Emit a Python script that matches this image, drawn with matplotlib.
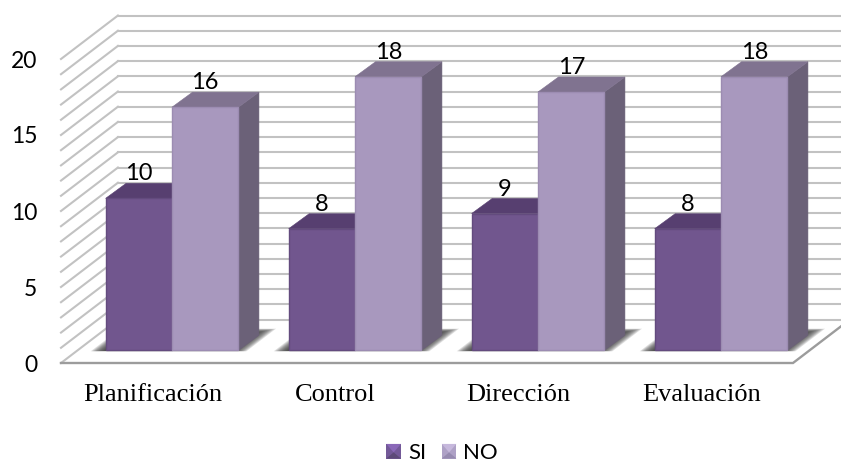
import matplotlib
matplotlib.use("Agg")
import matplotlib.pyplot as plt
from matplotlib.legend_handler import HandlerBase
from matplotlib.patches import Patch, Polygon

categories = ["Planificación", "Control", "Dirección", "Evaluación"]
si_values = [10, 8, 9, 8]
no_values = [16, 18, 17, 18]
y_ticks = [0, 5, 10, 15, 20]

plt.rcParams['font.family'] = ['Lato', 'DejaVu Sans']

# colours: front, top, side, front edge
si_colors = ("#71568e", "#573f70", "#4d3a63", "#634b7e")
no_colors = ("#a898be", "#807390", "#6b6178", "#9c8cb2")

# fake 3D box: how far the walls and bars go back, in axis units
wall_dx, wall_dy = 0.311, 2.86
bar_dx, bar_dy = 0.112, 0.987
front_dx, front_dy = 0.1066, 0.83
bar_w = 0.363


def poly(ax, pts, **kw):
    ax.add_patch(Polygon(pts, closed=True, clip_on=False, **kw))


def draw_walls(ax):
    x0, x1 = -0.5, 3.5
    for v in range(0, 21):
        c = "#c2c2c2"
        ax.plot([x0, x0 + wall_dx], [v, v + wall_dy], color=c, lw=1.5, clip_on=False, zorder=1)
        ax.plot([x0 + wall_dx, x1 + wall_dx], [v + wall_dy, v + wall_dy], color=c, lw=1.5,
                clip_on=False, zorder=1)
    # floor outline
    ax.plot([x0, x1, x1 + wall_dx], [0, 0, wall_dy], color="#9c9c9c", lw=1.7, clip_on=False,
            zorder=1.5, solid_joinstyle="miter")


def draw_shadow(ax, i):
    # soft floor shadow, stacked translucent layers
    left = i - bar_w + front_dx - 0.075
    right = i + bar_w + front_dx + 0.05
    d0, d1 = 0.27, 0.79
    layers = 12
    for k in range(layers):
        g = k / layers
        shrink_x = 0.085 * g
        a = d0 + 0.012 * g
        b = d1 - 0.1 * g
        pts = [
            (left + shrink_x + wall_dx * (a - 0.29), wall_dy * a),
            (right - shrink_x + wall_dx * (a - 0.29), wall_dy * a),
            (right - shrink_x + wall_dx * (b - 0.29), wall_dy * b),
            (left + shrink_x + wall_dx * (b - 0.29), wall_dy * b),
        ]
        poly(ax, pts, facecolor="#303030", edgecolor="none", alpha=0.15, zorder=2)


def draw_series(ax, xs, values, colors, z):
    front, top, side, rim = colors
    for x, v in zip(xs, values):
        left = x - bar_w / 2
        right = x + bar_w / 2
        y0 = front_dy
        y1 = front_dy + v
        poly(ax, [(right, y0), (right + bar_dx, y0 + bar_dy), (right + bar_dx, y1 + bar_dy), (right, y1)],
             facecolor=side, edgecolor=side, lw=0.4, zorder=z)
        poly(ax, [(left, y1), (right, y1), (right + bar_dx, y1 + bar_dy), (left + bar_dx, y1 + bar_dy)],
             facecolor=top, edgecolor=top, lw=0.4, zorder=z)
    ax.bar(xs, values, width=bar_w, bottom=front_dy, color=front, edgecolor=rim, linewidth=1.0,
           clip_on=False, zorder=z + 0.1)


class BevelHandler(HandlerBase):
    # small bevelled square for the legend keys
    def create_artists(self, legend, orig, xd, yd, w, h, fs, trans):
        s = 10.5
        x0 = (w - s) / 2 - xd
        y0 = (h - s) / 2 - yd
        light = orig.get_facecolor()
        dark = orig.get_edgecolor()
        mid = tuple((a + b) / 2 for a, b in zip(light, dark))
        cx, cy = x0 + s / 2, y0 + s * 0.42
        back = Polygon([(x0, y0), (x0 + s, y0), (x0 + s, y0 + s), (x0, y0 + s)], facecolor=mid,
                       edgecolor="none", transform=trans)
        top = Polygon([(x0, y0 + s), (x0 + s, y0 + s), (cx, cy)], facecolor=light,
                      edgecolor="none", transform=trans)
        bottom = Polygon([(x0, y0), (x0 + s, y0), (cx, cy)], facecolor=dark,
                         edgecolor="none", transform=trans)
        return [back, top, bottom]


fig = plt.figure(figsize=(8.41, 4.62), dpi=100)
# axes box is the front face of the chart
ax = fig.add_axes([61 / 841, 1 - 363 / 462, (793 - 61) / 841, (363 - 59) / 462])
ax.set_xlim(-0.5, 3.5)
ax.set_ylim(0, 20)
for s in ax.spines.values():
    s.set_visible(False)

draw_walls(ax)

xs = list(range(len(categories)))
si_x = [x + front_dx - bar_w / 2 for x in xs]
no_x = [x + front_dx + bar_w / 2 for x in xs]

for i in xs:
    draw_shadow(ax, i)

draw_series(ax, si_x, si_values, si_colors, 3)
draw_series(ax, no_x, no_values, no_colors, 4)

for x, v in zip(si_x + no_x, si_values + no_values):
    ax.text(x, v + front_dy + bar_dy + 0.2, str(v), ha="center", va="baseline", fontsize=17,
            color="black", zorder=6)

ax.set_yticks(y_ticks)
ax.set_xticks(xs)
ax.set_xticklabels(categories, fontfamily="Liberation Serif", fontsize=19)
ax.tick_params(axis="both", length=0)
ax.tick_params(axis="x", pad=15)
ax.tick_params(axis="y", pad=17, labelsize=16.5)

handles = [Patch(facecolor="#8a68b8", edgecolor="#5d4a78", label="SI"),
           Patch(facecolor="#c6b8dc", edgecolor="#968ab0", label="NO")]
leg = fig.legend(handles=handles, ncol=2, loc="center", bbox_to_anchor=(442 / 841, 1 - 453 / 462),
                 frameon=False, fontsize=16, handler_map={Patch: BevelHandler()},
                 handlelength=0.68, handletextpad=0.3, columnspacing=0.7, borderpad=0, borderaxespad=0)

fig.savefig("out.png", dpi=100)
